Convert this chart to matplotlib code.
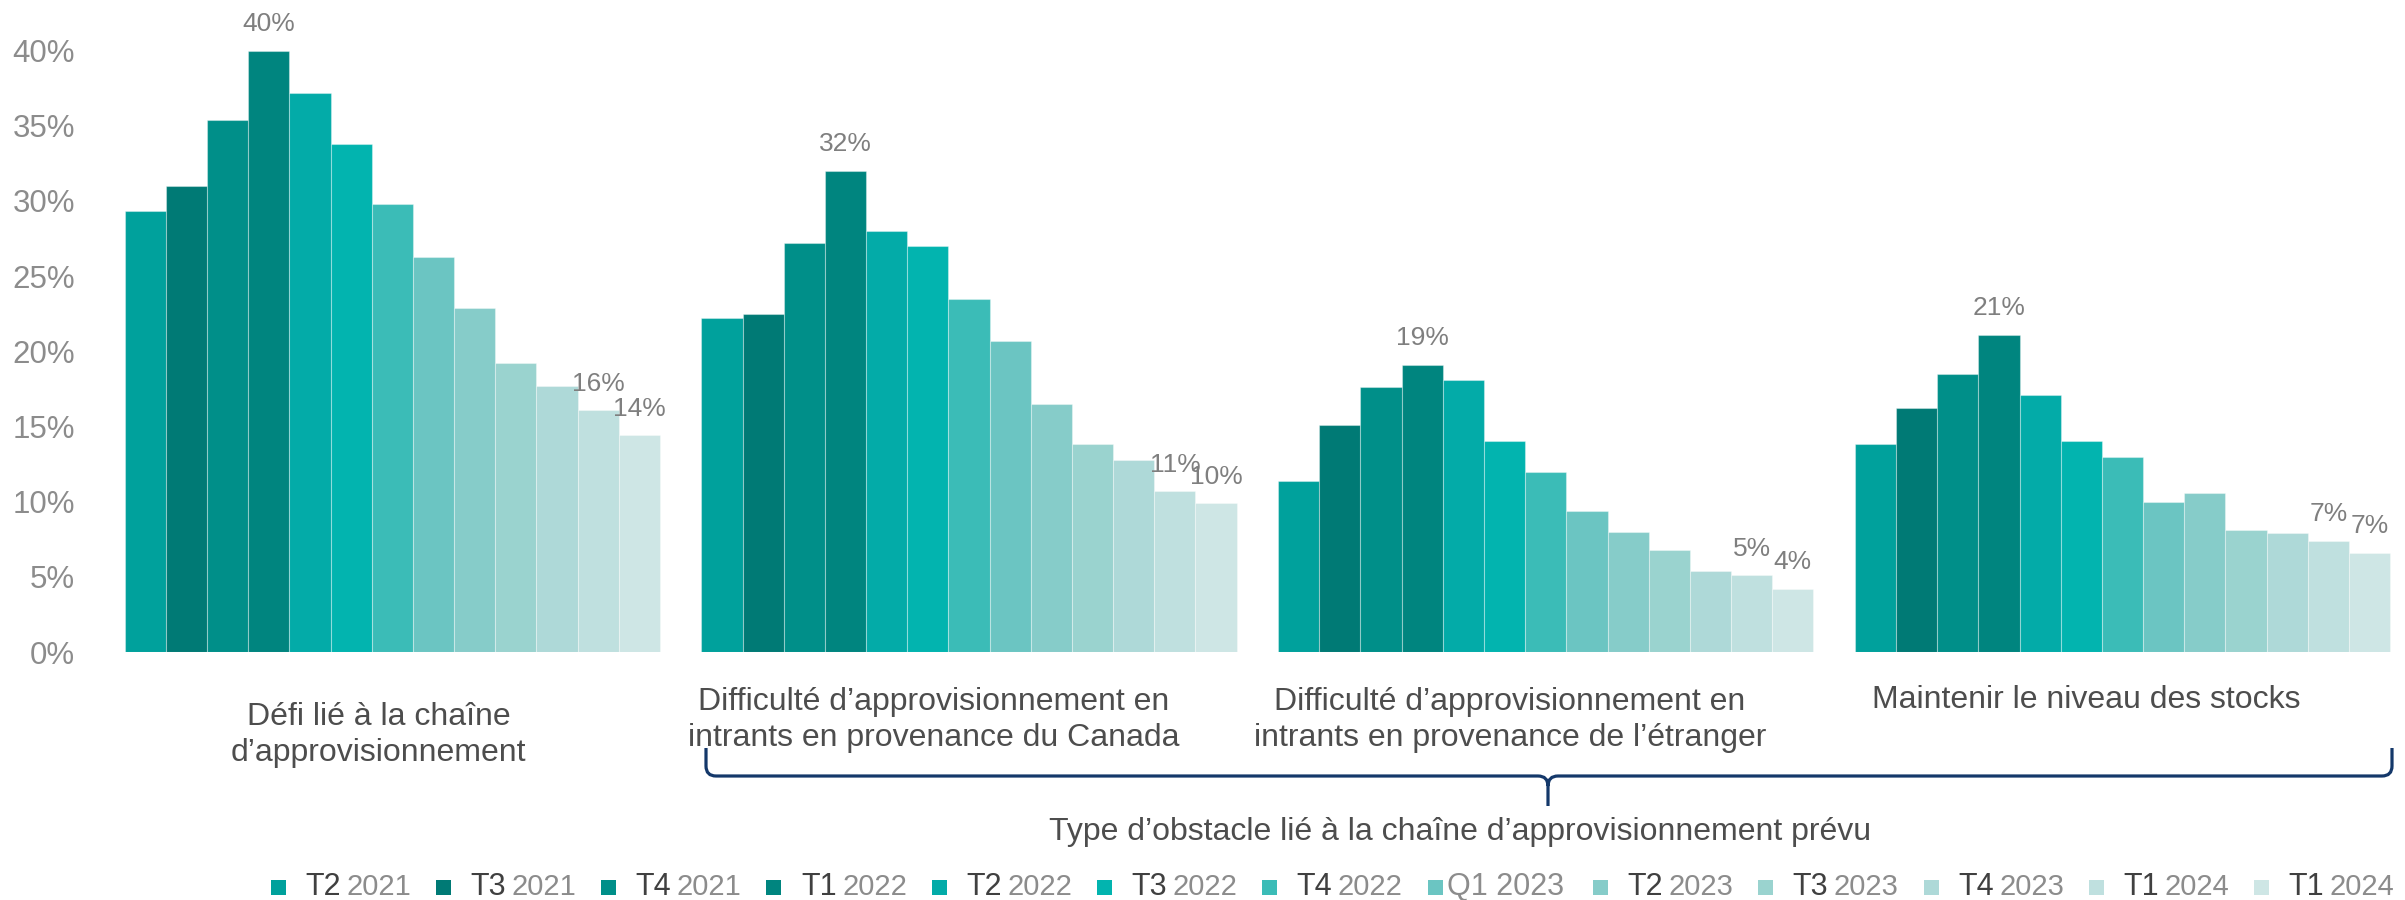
import numpy as np
import matplotlib
matplotlib.use("Agg")
import matplotlib.pyplot as plt
import matplotlib.transforms as mtransforms
from matplotlib.path import Path
from matplotlib.patches import PathPatch, Rectangle

plt.rcParams['font.family'] = ['Liberation Sans', 'DejaVu Sans']

# Données (en %)
periodes = ["T2 2021", "T3 2021", "T4 2021", "T1 2022", "T2 2022", "T3 2022", "T4 2022",
            "Q1 2023", "T2 2023", "T3 2023", "T4 2023", "T1 2024", "T1 2024"]
obstacles = ["Défi lié à la chaîne\nd’approvisionnement",
             "Difficulté d’approvisionnement en\nintrants en provenance du Canada",
             "Difficulté d’approvisionnement en\nintrants en provenance de l’étranger",
             "Maintenir le niveau des stocks"]
defi_chaine = [29.3, 31.0, 35.4, 40.0, 37.2, 33.8, 29.8, 26.3, 22.9, 19.2, 17.7, 16.1, 14.4]
diff_canada = [22.2, 22.5, 27.2, 32.0, 28.0, 27.0, 23.5, 20.7, 16.5, 13.8, 12.8, 10.7, 9.9]
diff_etranger = [11.4, 15.1, 17.6, 19.1, 18.1, 14.0, 12.0, 9.4, 8.0, 6.8, 5.4, 5.1, 4.2]
maintien_stocks = [13.8, 16.2, 18.5, 21.1, 17.1, 14.0, 13.0, 10.0, 10.6, 8.1, 7.9, 7.4, 6.6]
titre_axe = "Type d’obstacle lié à la chaîne d’approvisionnement prévu"

couleurs = ["#00A19C", "#007A75", "#008F89", "#00857F", "#03ABA8", "#02B4AF", "#3BBCB7",
            "#6BC5C2", "#86CCC9", "#9AD3CF", "#AED9D8", "#BFE0DF", "#CEE6E5"]

W, H = 2405, 900
fig = plt.figure(figsize=(W / 100, H / 100), dpi=100)

# axe : centres des groupes espacés de ~577 px, base à y=652 px, 40 % à y=50 px
pas = 576.7
ax = fig.add_axes([104 / W, 1 - 652 / H, 3.99 * pas / W, (652 - 50.5) / H])

valeurs = np.array([defi_chaine, diff_canada, diff_etranger, maintien_stocks])
n = len(periodes)
largeur = 0.928 / n
x = np.arange(len(obstacles))
etiquetees = (3, n - 2, n - 1)  # pic et deux dernières périodes

for j, periode in enumerate(periodes):
    xj = x + (j - (n - 1) / 2) * largeur
    ax.bar(xj, valeurs[:, j], width=largeur, color=couleurs[j],
           edgecolor=(1, 1, 1, 0.35), linewidth=0.8, label=periode)
    if j in etiquetees:
        for xi, v in zip(xj, valeurs[:, j]):
            ax.annotate(f"{v:.0f}%", (xi, v), xytext=(0, 19), textcoords='offset points',
                        ha='center', va='center', fontsize=19, color='#7F7F7F',
                        annotation_clip=False)

ax.set_xlim(-0.5, 3.49)
ax.set_ylim(0, 40)
ax.set_yticks(range(0, 41, 5))
ax.set_yticklabels([f"{t}%" for t in range(0, 41, 5)])
ax.tick_params(axis='y', length=0, pad=21, labelsize=22.5, labelcolor='#8C8C8C')
ax.set_xticks([])
for s in ax.spines.values():
    s.set_visible(False)

# libellés des catégories
trans = mtransforms.blended_transform_factory(ax.transData, fig.transFigure)
for i, lab in enumerate(obstacles):
    nl = lab.count("\n") + 1
    y_l1 = 715 if i == 0 else 700
    dx = -0.024 if i == 0 else -0.062
    yc = y_l1 + (nl - 1) * 40 / 2
    ax.text(i + dx, 1 - yc / H, lab, transform=trans, ha='center', va='center',
            fontsize=23, color='#4D4D4D', linespacing=1.3)

# accolade
def fx(px):
    return px / W

def fy(py):
    return 1 - py / H

L, R, tip = 706, 2392, 1548
y_top, y_h, y_tip, r = 748, 776, 806, 10
pts = [(L, y_top), (L, y_h - r), (L, y_h), (L + r, y_h), (tip - r, y_h), (tip, y_h), (tip, y_h + r),
       (tip, y_tip), (tip, y_h + r), (tip, y_h), (tip + r, y_h), (R - r, y_h), (R, y_h), (R, y_h - r),
       (R, y_top)]
codes = [Path.MOVETO, Path.LINETO, Path.CURVE3, Path.CURVE3, Path.LINETO, Path.CURVE3, Path.CURVE3,
         Path.LINETO, Path.MOVETO, Path.CURVE3, Path.CURVE3, Path.LINETO, Path.CURVE3, Path.CURVE3,
         Path.LINETO]
chemin = Path([(fx(a), fy(b)) for a, b in pts], codes)
fig.add_artist(PathPatch(chemin, facecolor='none', edgecolor='#14386A', linewidth=2.3,
                         transform=fig.transFigure))

fig.text(1460 / W, fy(832), titre_axe, ha='center', va='center', fontsize=23, color='#4D4D4D')

# légende
y_leg = 887
for i, per in enumerate(periodes):
    xm = 278 + 165.3 * i
    fig.add_artist(Rectangle((fx(xm - 7.5), fy(y_leg + 7.5)), 15 / W, 15 / H,
                             facecolor=couleurs[i], edgecolor='none', transform=fig.transFigure))
    trimestre, annee = per.split(" ")
    if trimestre.startswith("Q"):
        fig.text(fx(xm + 12), fy(y_leg), per, ha='left', va='center', fontsize=22, color='#8C8C8C')
    else:
        fig.text(fx(xm + 27), fy(y_leg), trimestre, ha='left', va='center', fontsize=22,
                 color='#404040')
        fig.text(fx(xm + 133), fy(y_leg), annee, ha='right', va='center', fontsize=21,
                 color='#8C8C8C')

fig.savefig("out.png", dpi=100)
